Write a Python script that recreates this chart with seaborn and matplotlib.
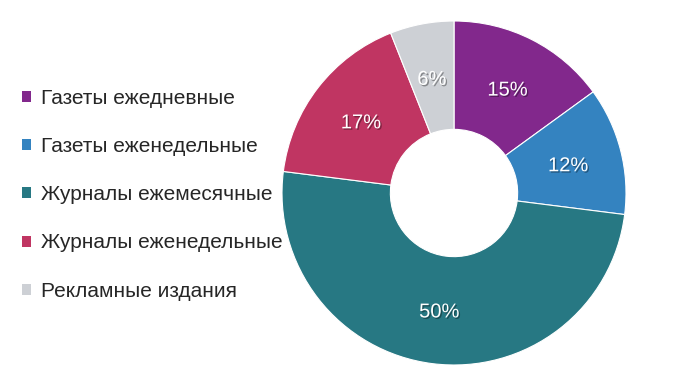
import matplotlib
matplotlib.use("Agg")
import matplotlib.pyplot as plt
import matplotlib.patheffects as pe
from matplotlib.patches import Patch
import seaborn as sns

categories = [
    "Газеты ежедневные",
    "Газеты еженедельные",
    "Журналы ежемесячные",
    "Журналы еженедельные",
    "Рекламные издания",
]
shares = [15, 12, 50, 17, 6]
colors = ["#82288C", "#3483C0", "#277883", "#C03562", "#CDD0D5"]

sns.set_theme(style="white")
plt.rcParams["font.family"] = ["Liberation Sans", "DejaVu Sans"]

fig = plt.figure(figsize=(7, 3.88), dpi=100)
ax = fig.add_axes([282 / 700, 23 / 388, 344 / 700, 344 / 388])

palette = sns.color_palette(colors)
wedges, texts, autotexts = ax.pie(
    shares,
    colors=palette,
    startangle=90,
    counterclock=False,
    radius=1,
    autopct=lambda p: f"{p:.0f}%",
    pctdistance=0.685,
    wedgeprops=dict(width=0.63, edgecolor="white", linewidth=0.8),
    textprops=dict(color="white", fontsize=14.5),
)
shadow = [pe.withSimplePatchShadow(offset=(1, -1), shadow_rgbFace="black", alpha=0.35)]
for t in autotexts:
    t.set_path_effects(shadow)
    x, y = t.get_position()
    t.set_position((x, y - 0.012))

ax.set_xlim(-1, 1)
ax.set_ylim(-1, 1)
ax.set_aspect("equal")
ax.axis("off")

handles = [Patch(facecolor=c, edgecolor="none") for c in palette]
fig.legend(
    handles, categories,
    loc="upper left", bbox_to_anchor=(22 / 700, 1 - 89 / 388),
    frameon=False, fontsize=15,
    handlelength=0.43, handleheight=0.43, handletextpad=0.5,
    labelspacing=1.4, borderaxespad=0, borderpad=0,
)

fig.savefig("out.png", dpi=100, facecolor="white")
